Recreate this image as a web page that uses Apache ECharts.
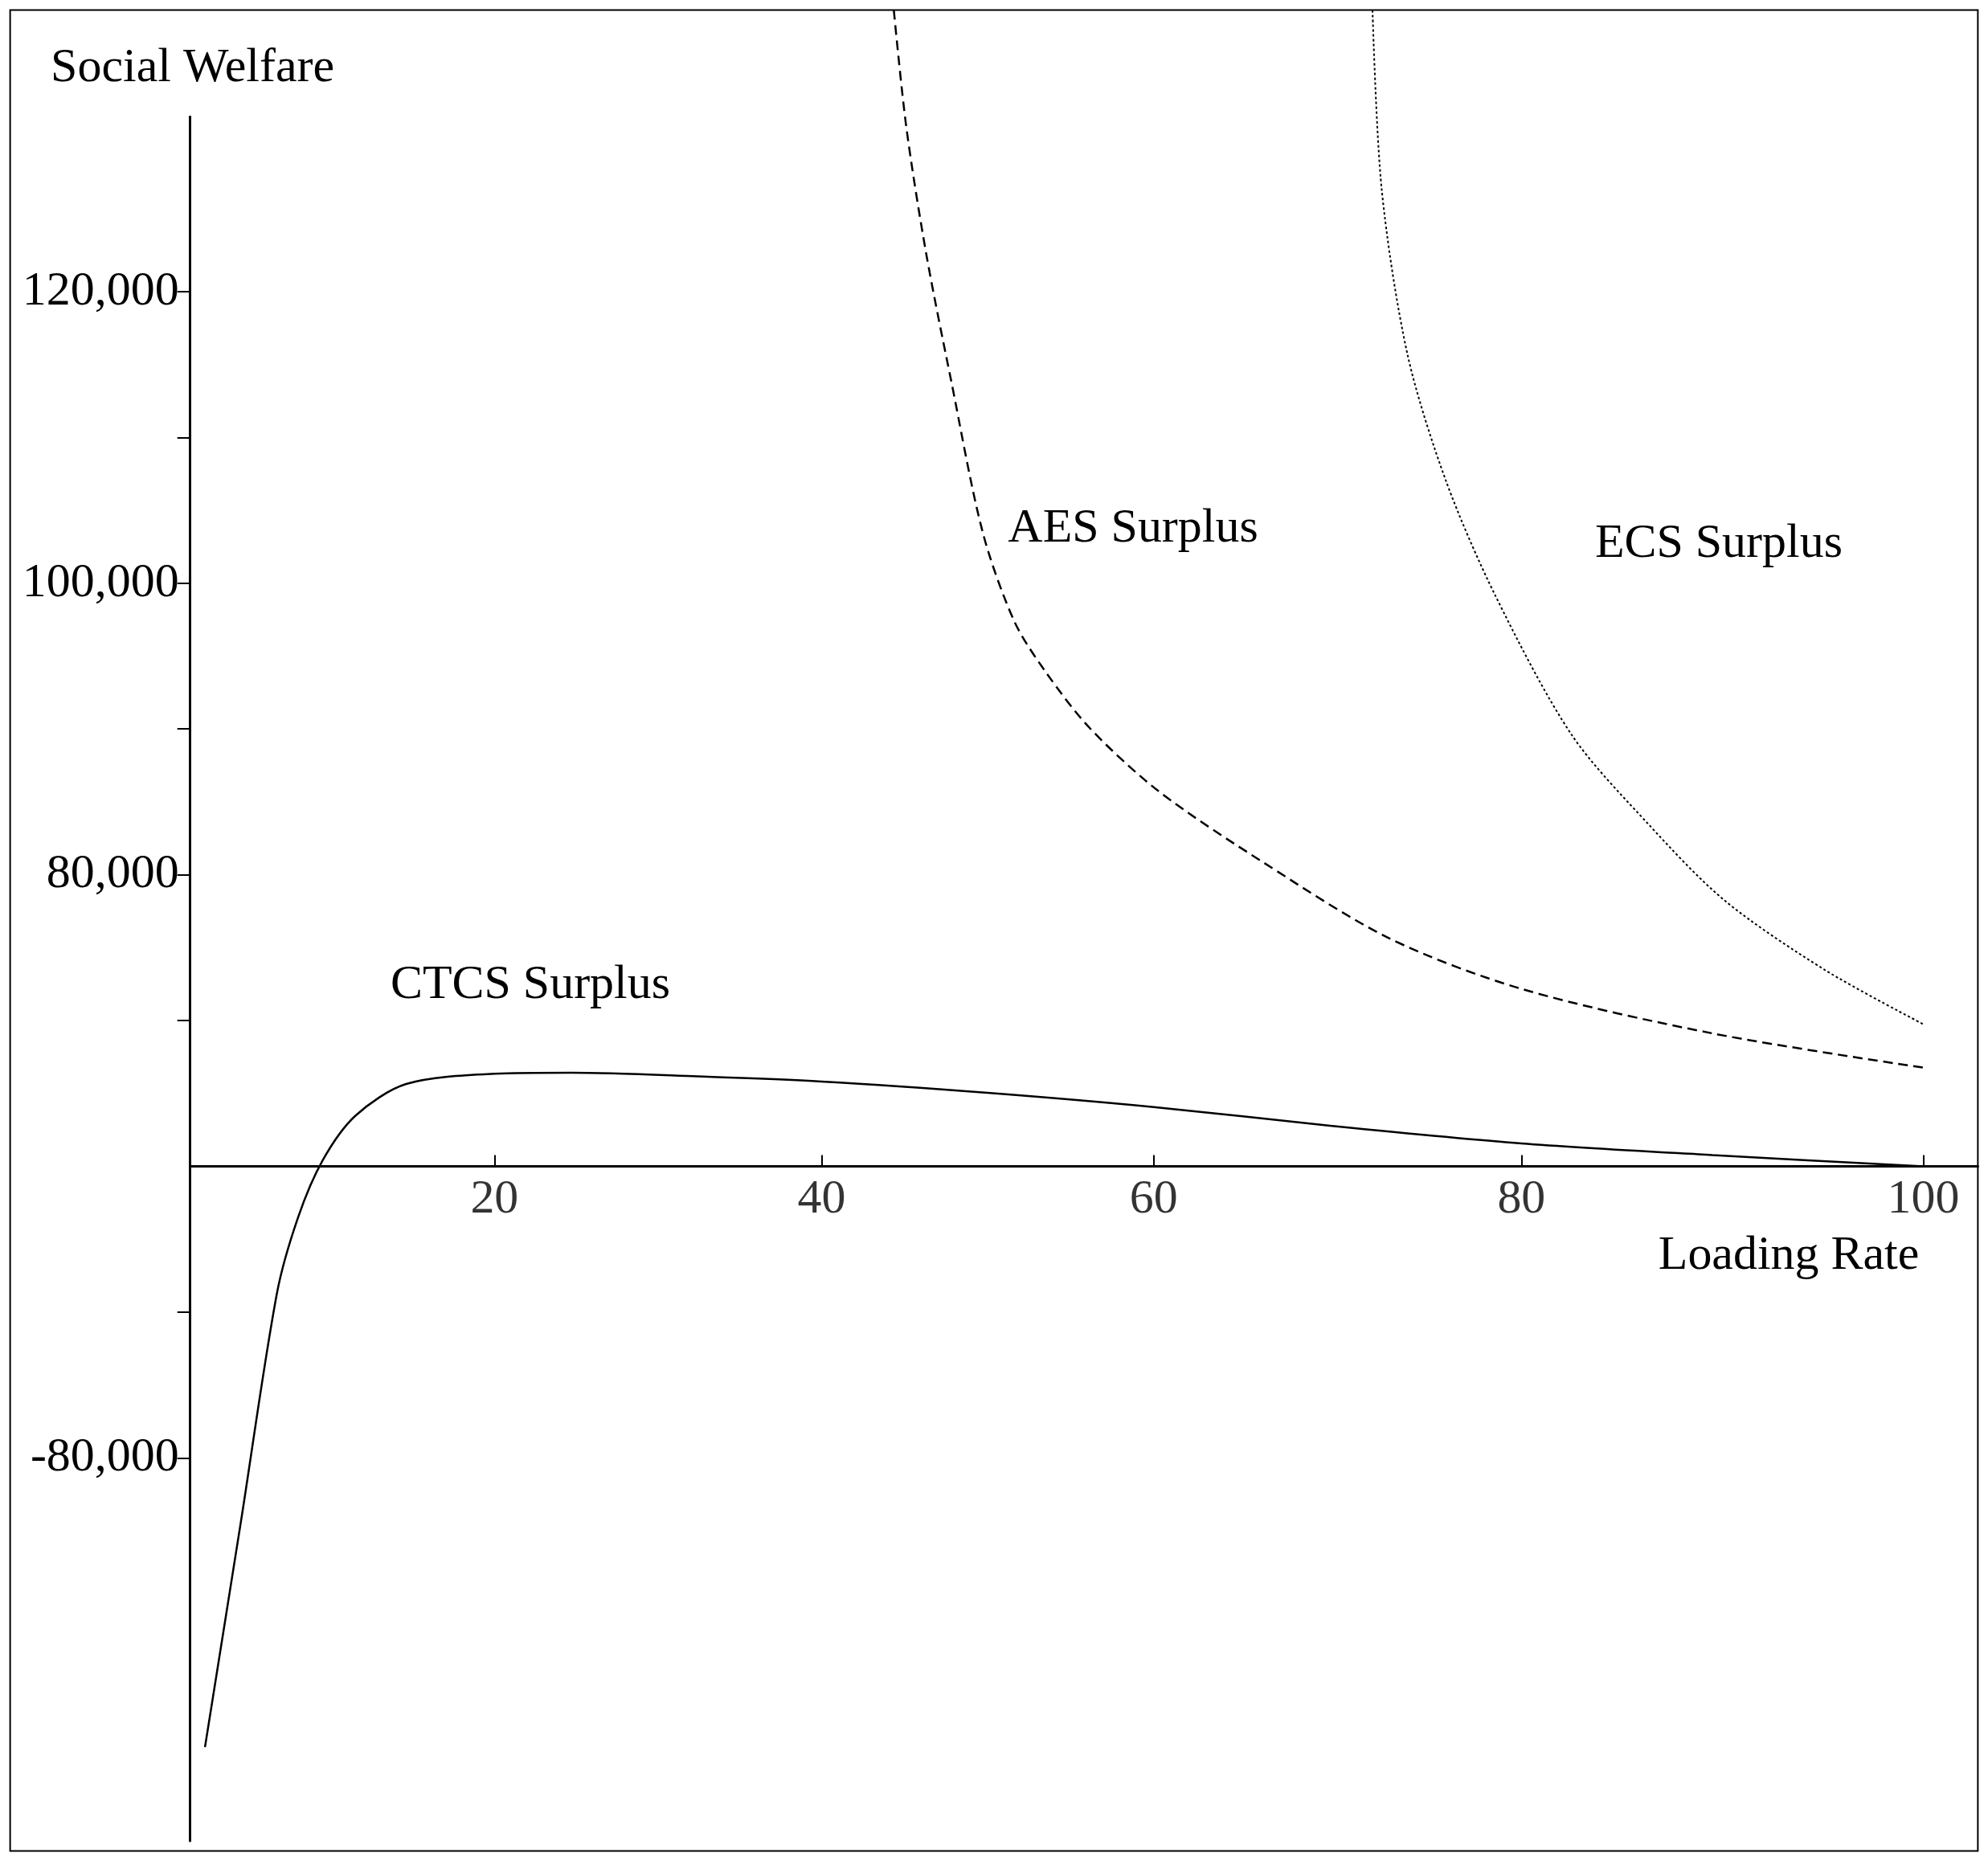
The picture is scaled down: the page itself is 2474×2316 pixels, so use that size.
<!DOCTYPE html>
<html><head><meta charset="utf-8">
<script src="https://cdn.jsdelivr.net/npm/echarts@6/dist/echarts.min.js"></script>
<style>html,body{margin:0;background:#fff}#c{width:2474px;height:2316px}</style></head>
<body><div id="c"></div>
<script>
const xTicks = [20, 40, 60, 80, 100];
const yTickLabels = ['120,000', '100,000', '80,000', '-80,000'];
const yTickValues = [120000, 100000, 80000, -80000];
const yMinorTicks = [110000, 90000, 40000, -40000];
const ctcsX = [2.3, 4.5, 6.7, 8.0, 9.5, 11.5, 14.6, 20, 24.7, 32.4, 40, 50, 60, 69.7, 80, 89.5, 100];
const ctcsY = [-159300, -97400, -34800, -13900, 1700, 13900, 22600, 25400, 25700, 24700, 23300, 20200, 16300, 11100, 6300, 3100, 0];
const aesX = [44.35, 45.1, 46.3, 47.8, 49.7, 51.6, 53.5, 56.2, 60.3, 65.9, 72.8, 80, 89.5, 100];
const aesY = [139300, 131300, 122600, 113900, 103500, 97400, 93900, 90000, 85700, 80900, 62600, 48700, 36500, 27100];
const ecsX = [71.9, 72.4, 73.8, 75.9, 78.6, 82.5, 86.3, 90.1, 95.1, 100];
const ecsY = [139300, 127000, 115700, 107000, 99100, 89600, 83500, 73000, 53900, 39000];

// The original axes are piecewise scaled; map real values to display units.
const xKnots = [[0, 132], [20, 390], [40, 648], [60, 910], [80, 1200], [100, 1517]];
function xd(v) {
  for (let i = 1; i < xKnots.length; i++) {
    const a = xKnots[i - 1], b = xKnots[i];
    if (v <= b[0] || i === xKnots.length - 1) return a[1] + (v - a[0]) * (b[1] - a[1]) / (b[0] - a[0]);
  }
}
function yd(v) { return v >= 80000 ? 2 + (v - 80000) / 10000 : v / 40000; }
const zip = (xs, ys) => xs.map((x, i) => [xd(x), yd(ys[i])]);

const S = 2474 / 1568;
const font = 'Liberation Serif';
const chart = echarts.init(document.getElementById('c'));
const txt = (t, x, y) => ({ type: 'text', left: x * S, top: y * S, style: { text: t, font: `${38 * S}px "${font}"`, fill: '#000' } });
chart.setOption({
  animation: false,
  grid: { left: 150 * S, right: 2474 - 1560 * S, top: 92 * S, bottom: 2316 - 1452 * S, containLabel: false, outerBoundsMode: 'none' },
  xAxis: {
    type: 'value', min: 150, max: 1560,
    axisLine: { onZero: true, lineStyle: { color: '#000', width: 3 } },
    axisTick: { inside: true, length: 14, lineStyle: { color: '#000', width: 2 }, customValues: xTicks.map(xd) },
    axisLabel: { show: false },
    splitLine: { show: false }
  },
  yAxis: {
    type: 'value', min: (920 - 1452) / 115, max: (920 - 92) / 115,
    axisLine: { lineStyle: { color: '#000', width: 3 } },
    axisTick: { length: 16, lineStyle: { color: '#000', width: 2 }, customValues: yTickValues.concat(yMinorTicks).map(yd) },
    axisLabel: { customValues: yTickValues.map(yd), formatter: v => yTickLabels[yTickValues.map(yd).findIndex(t => Math.abs(t - v) < 0.01)],
      color: '#000', fontFamily: font, fontSize: 38 * S, margin: 14 },
    splitLine: { show: false }
  },
  series: [
    { type: 'line', data: zip(ctcsX, ctcsY), smooth: 0.3, symbol: 'none', lineStyle: { color: '#000', width: 2.5 } },
    { type: 'line', data: zip(aesX, aesY), smooth: 0.3, symbol: 'none', clip: false, lineStyle: { color: '#000', width: 2.5, type: [12, 7] } },
    { type: 'line', data: zip(ecsX, ecsY), smooth: 0.3, symbol: 'none', clip: false, lineStyle: { color: '#000', width: 2, type: [3, 3] } },
    { type: 'scatter', data: xTicks.map(v => [xd(v), 0, v]), symbolSize: 0, silent: true,
      label: { show: true, position: 'bottom', distance: 12, formatter: p => String(p.data[2]),
        color: '#000', fontFamily: font, fontSize: 38 * S } }
  ],
  graphic: [
    { type: 'rect', shape: { x: 8 * S, y: 8 * S, width: 1552 * S, height: 1452 * S }, style: { fill: 'none', stroke: '#000', lineWidth: 2 } },
    txt('Social Welfare', 40, 35), txt('Loading Rate', 1308, 972), txt('AES Surplus', 795, 398),
    txt('ECS Surplus', 1258, 410), txt('CTCS Surplus', 308, 758)
  ]
});
</script></body></html>
